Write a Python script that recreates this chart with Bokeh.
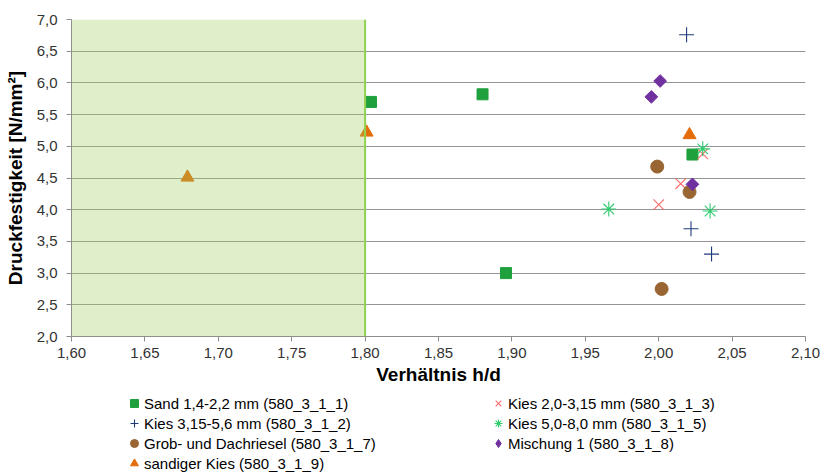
import numpy as np
from bokeh.plotting import figure
from bokeh.layouts import column
from bokeh.models import (BoxAnnotation, Span, FixedTicker, CustomJSTickFormatter,
                          Legend, LegendItem, Range1d)
from bokeh.embed import file_html
from bokeh.resources import INLINE

# ---- data ----
sand_x = [1.804, 1.880, 2.023, 1.896]
sand_y = [5.70, 5.82, 4.87, 3.00]

kies_20_x = [2.030, 2.015, 2.000]
kies_20_y = [4.88, 4.41, 4.08]

kies_315_x = [2.019, 2.022, 2.036]
kies_315_y = [6.76, 3.70, 3.30]

kies_50_x = [2.030, 1.966, 2.035]
kies_50_y = [4.96, 4.01, 3.98]

grob_x = [1.999, 2.021, 2.002]
grob_y = [4.68, 4.28, 2.75]

misch_x = [2.001, 1.995, 2.023]
misch_y = [6.03, 5.78, 4.40]

sandk_x = [1.679, 1.801, 2.021]
sandk_y = [4.51, 5.22, 5.18]

x_ticks = [1.60, 1.65, 1.70, 1.75, 1.80, 1.85, 1.90, 1.95, 2.00, 2.05, 2.10]
y_ticks = [2.0, 2.5, 3.0, 3.5, 4.0, 4.5, 5.0, 5.5, 6.0, 6.5, 7.0]
zone_x = [1.60, 1.80]
zone_y = [2.0, 7.0]

labels = ["Sand 1,4-2,2 mm (580_3_1_1)", "Kies 2,0-3,15 mm (580_3_1_3)",
          "Kies 3,15-5,6 mm (580_3_1_2)", "Kies 5,0-8,0 mm (580_3_1_5)",
          "Grob- und Dachriesel (580_3_1_7)", "Mischung 1 (580_3_1_8)",
          "sandiger Kies (580_3_1_9)"]

FONT = "Liberation Sans"

styles = [
    dict(marker="square", size=11, fill_color="#1EA03C", line_color="#1EA03C"),
    dict(marker="x", size=15, line_color="#FF6B6B", line_width=1.1),
    dict(marker="cross", size=15, line_color="#1F3A7C", line_width=1.1),
    dict(marker="asterisk", size=15, line_color="#2FCB6E", line_width=1.1),
    dict(marker="circle", size=13, fill_color="#996633", line_color="#996633"),
    dict(marker="square", angle=np.pi / 4, size=9, fill_color="#7030A0", line_color="#7030A0"),
    dict(marker="triangle", size=13, fill_color="#E46C0A", line_color="#E46C0A"),
]
# legend glyph styles (the rotated square is shown as a diamond in the legend)
legend_styles = list(styles)
legend_styles[5] = dict(marker="diamond", size=12, fill_color="#7030A0", line_color="#7030A0")

series = [(sand_x, sand_y), (kies_20_x, kies_20_y), (kies_315_x, kies_315_y),
          (kies_50_x, kies_50_y), (grob_x, grob_y), (misch_x, misch_y), (sandk_x, sandk_y)]

p = figure(width=821, height=390, output_backend="svg", toolbar_location=None,
           x_range=(1.6, 2.1), y_range=(2.0, 7.0),
           min_border_left=71, min_border_right=16, min_border_top=19,
           min_border_bottom=54)
p.outline_line_color = None

for (xs, ys), st in zip(series, styles):
    p.scatter(xs, ys, **st)

# shaded zone h/d <= 1.80 (semi-transparent, over the points)
p.add_layout(BoxAnnotation(left=zone_x[0], right=zone_x[1], bottom=zone_y[0], top=zone_y[1],
                           fill_color="#9ACD5A", fill_alpha=0.33, line_color=None))
p.add_layout(Span(location=zone_x[1], dimension="height", line_color="#92D050", line_width=2))

# axes
p.xaxis.ticker = FixedTicker(ticks=x_ticks)
p.yaxis.ticker = FixedTicker(ticks=y_ticks)
p.xaxis.formatter = CustomJSTickFormatter(code="return tick.toFixed(2).replace('.', ',');")
p.yaxis.formatter = CustomJSTickFormatter(code="return tick.toFixed(1).replace('.', ',');")
p.xaxis.minor_tick_line_color = None
p.yaxis.minor_tick_line_color = None
for ax in (p.xaxis, p.yaxis):
    ax.axis_line_color = "#8C8C8C"
    ax.major_tick_line_color = "#8C8C8C"
    ax.major_tick_in = 0
    ax.major_tick_out = 5
    ax.major_label_text_font = FONT
    ax.major_label_text_font_size = "15px"
    ax.major_label_text_color = "#333333"
    ax.axis_label_text_font = FONT
    ax.axis_label_text_font_size = "19px"
    ax.axis_label_text_font_style = "bold"
    ax.axis_label_text_color = "black"
p.xaxis.axis_label = "Verhältnis h/d"
p.yaxis.axis_label = "Druckfestigkeit [N/mm²]"
p.xaxis.major_label_standoff = 6
p.yaxis.major_label_standoff = 9
p.xaxis.axis_label_standoff = 3
p.yaxis.axis_label_standoff = 8

p.xgrid.grid_line_color = None
p.ygrid.grid_line_color = "#959595"
p.ygrid.grid_line_width = 1

# ---- legend panel below the chart ----
# the legend figure shows no data area: its ranges exclude all data values,
# its renderers only supply the legend glyphs
lg = figure(width=821, height=82, output_backend="svg", toolbar_location=None,
            x_axis_type=None, y_axis_type=None,
            x_range=Range1d(0, 1), y_range=Range1d(0, 1),
            min_border_left=0, min_border_right=0, min_border_top=0, min_border_bottom=0)
lg.outline_line_color = None
lg.grid.grid_line_color = None
leg_renderers = [lg.scatter(xs, ys, **st) for (xs, ys), st in zip(series, legend_styles)]

def make_legend(idx, loc):
    items = [LegendItem(label=labels[i], renderers=[leg_renderers[i]]) for i in idx]
    return Legend(items=items, location=loc, orientation="vertical",
                  label_text_font=FONT, label_text_font_size="15px",
                  label_text_color="black",
                  glyph_width=20, glyph_height=20, label_height=20,
                  label_standoff=0, spacing=0, padding=0, margin=0,
                  border_line_color=None, background_fill_alpha=0)

lg.add_layout(make_legend([0, 2, 4, 6], (53, -1)))
lg.add_layout(make_legend([1, 3, 5], (417, 19)))

layout = column(p, lg, spacing=0)
open("out.html", "w").write(file_html(layout, INLINE))
